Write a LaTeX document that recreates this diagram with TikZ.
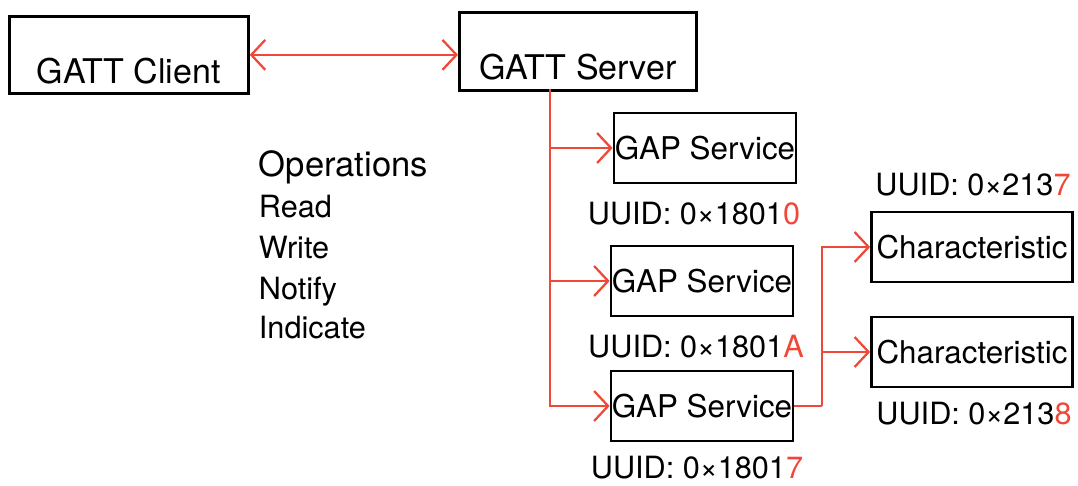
\documentclass[tikz,border=0pt]{standalone}
\usepackage{fontspec}
\setmainfont{TeX Gyre Heros}
\usetikzlibrary{arrows.meta}
\definecolor{linkred}{RGB}{240,72,56}

\begin{document}
\begin{tikzpicture}[x=0.025cm, y=-0.025cm, >={Straight Barb[length=3.5mm, width=7.5mm]},
    box/.style={draw, line width=1.9pt, inner sep=0pt, font=\fontsize{22.3}{25}\selectfont},
    link/.style={draw=linkred, line width=1.6pt},
    uuid/.style={font=\fontsize{21.8}{24}\selectfont}]
    \useasboundingbox (0,0) rectangle (1078,486);
    % client and server
    \node [box, anchor=north west, minimum width=5.975cm, text height=1.675cm, text depth=0.25cm,
        font=\fontsize{24.2}{28}\selectfont] (client) at (8,15) {GATT Client};
    \node [box, anchor=north west, minimum width=5.925cm, text height=1.675cm, text depth=0.275cm,
        font=\fontsize{24.2}{28}\selectfont] (server) at (458,11) {GATT Server};
    \draw [link, <->] (client.east) to (client.east -| server.west);
    % operations
    \node [anchor=base west, font=\fontsize{24.6}{28}\selectfont] (ops) at (254,176) {Operations};
    \node [anchor=base west, uuid] (read) at (254,217) {Read};
    \node [anchor=base west, uuid] (write) at (254,258) {Write};
    \node [anchor=base west, uuid] (notify) at (254,299) {Notify};
    \node [anchor=base west, uuid] (indicate) at (254,338) {Indicate};
    % services
    \node [box, minimum width=4.55cm, minimum height=1.75cm] (gap1) at (705,148) {GAP Service};
    \node [box, minimum width=4.55cm, minimum height=1.75cm] (gap2) at (702,281) {GAP Service};
    \node [box, minimum width=4.55cm, minimum height=1.75cm] (gap3) at (702,406) {GAP Service};
    \node [uuid] (u1) at (694,214) {UUID: 0×1801\textcolor{linkred}{0}};
    \node [uuid] (u2) at (696,347) {UUID: 0×1801\textcolor{linkred}{A}};
    \node [uuid] (u3) at (697,468) {UUID: 0×1801\textcolor{linkred}{7}};
    \coordinate (trunk) at (550,89);
    \draw [link, ->] (trunk) |- (gap1.west);
    \draw [link, ->] (trunk) |- (gap2.west);
    \draw [link, ->] (trunk) |- (gap3.west);
    % characteristics
    \node [box, minimum width=5.025cm, minimum height=1.75cm] (char1) at (972,247) {Characteristic};
    \node [box, minimum width=5.025cm, minimum height=1.75cm] (char2) at (972,352) {Characteristic};
    \node [uuid] (u4) at (973,185) {UUID: 0×213\textcolor{linkred}{7}};
    \node [uuid] (u5) at (974,414) {UUID: 0×213\textcolor{linkred}{8}};
    \draw [link] (gap3.east) -- ++(28,0) coordinate (fork);
    \draw [link, ->] (fork) |- (char1.west);
    \draw [link, ->] (fork) |- (char2.west);
\end{tikzpicture}
\end{document}
